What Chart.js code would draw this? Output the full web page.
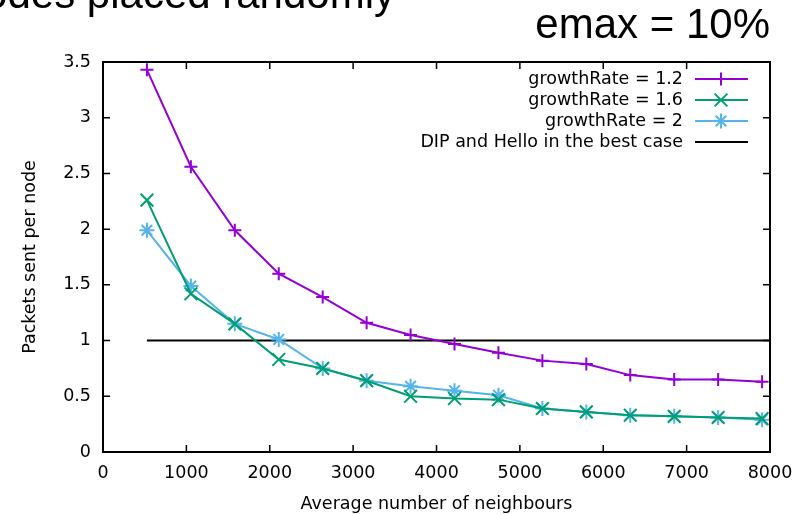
<!DOCTYPE html>
<html>
<head>
<meta charset="utf-8">
<script src="https://cdn.jsdelivr.net/npm/chart.js@4.4.1/dist/chart.umd.min.js"></script>
<style>
  html, body { margin: 0; padding: 0; background: #fff; }
  #chart { display: block; }
</style>
</head>
<body>
<canvas id="chart" width="809" height="515"></canvas>
<script>
// values
const neighbours = [527, 1054, 1581, 2108, 2635, 3162, 3689, 4216, 4743, 5270, 5797, 6324, 6851, 7378, 7905];
const rate12 = [3.43, 2.56, 1.99, 1.60, 1.39, 1.16, 1.05, 0.97, 0.89, 0.82, 0.79, 0.69, 0.65, 0.65, 0.63];
const rate16 = [2.26, 1.42, 1.15, 0.83, 0.75, 0.64, 0.50, 0.48, 0.47, 0.39, 0.36, 0.33, 0.32, 0.31, 0.30];
const rate2  = [1.99, 1.49, 1.15, 1.01, 0.75, 0.64, 0.59, 0.55, 0.51, 0.39, 0.36, 0.33, 0.32, 0.31, 0.29];
const bestX = [527, 8000];
const bestY = [1, 1];
const labels = ["growthRate = 1.2", "growthRate = 1.6", "growthRate = 2", "DIP and Hello in the best case"];
const colours = ["#9400d3", "#009e73", "#56b4e9", "#000000"];

const toPoints = (xs, ys) => xs.map((x, i) => ({ x: x, y: ys[i] }));

const font = { family: "DejaVu Sans", size: 17.5 };

// gnuplot style frame with ticks on all four sides
const framePlugin = {
  id: "frame",
  afterDatasetsDraw(chart) {
    const { ctx, chartArea: a, scales } = chart;
    ctx.save();
    ctx.strokeStyle = "#000";
    ctx.lineWidth = 1.5;
    ctx.beginPath();
    scales.x.ticks.forEach((t) => {
      const px = scales.x.getPixelForValue(t.value);
      ctx.moveTo(px, a.bottom); ctx.lineTo(px, a.bottom - 7);
      ctx.moveTo(px, a.top); ctx.lineTo(px, a.top + 7);
    });
    scales.y.ticks.forEach((t) => {
      const py = scales.y.getPixelForValue(t.value);
      ctx.moveTo(a.left, py); ctx.lineTo(a.left + 7, py);
      ctx.moveTo(a.right, py); ctx.lineTo(a.right - 7, py);
    });
    ctx.stroke();
    ctx.lineWidth = 2;
    ctx.strokeRect(a.left, a.top, a.right - a.left, a.bottom - a.top);

    // legend inside the plot, text on the left of the sample
    ctx.font = "17.5px 'DejaVu Sans'";
    ctx.textAlign = "right";
    ctx.textBaseline = "middle";
    chart.data.datasets.forEach((ds, i) => {
      const y = 79 + i * 21;
      ctx.fillStyle = "#000";
      ctx.fillText(ds.label, 683, y);
      ctx.strokeStyle = ds.borderColor;
      ctx.lineWidth = 2;
      ctx.beginPath();
      ctx.moveTo(695, y); ctx.lineTo(748, y);
      ctx.stroke();
      if (ds.pointRadius > 0) {
        Chart.helpers.drawPoint(ctx, { pointStyle: ds.pointStyle, rotation: 0, radius: ds.pointRadius, borderWidth: 2 }, 721, y);
      }
    });
    ctx.restore();
  },
  afterDraw(chart) {
    const ctx = chart.ctx;
    ctx.save();
    ctx.fillStyle = "#000";
    ctx.font = "42px 'Liberation Sans'";
    ctx.textBaseline = "alphabetic";
    ctx.textAlign = "right";
    ctx.fillText("Nodes placed randomly", 395, 8);
    ctx.fillText("emax = 10%", 770, 38);
    ctx.restore();
  }
};

new Chart(document.getElementById("chart"), {
  type: "line",
  data: {
    datasets: [
      { label: labels[0], data: toPoints(neighbours, rate12), borderColor: colours[0], backgroundColor: colours[0],
        pointStyle: "cross", pointRadius: 6.5, pointBorderWidth: 2 },
      { label: labels[1], data: toPoints(neighbours, rate16), borderColor: colours[1], backgroundColor: colours[1],
        pointStyle: "crossRot", pointRadius: 9, pointBorderWidth: 2 },
      { label: labels[2], data: toPoints(neighbours, rate2), borderColor: colours[2], backgroundColor: colours[2],
        pointStyle: "star", pointRadius: 7.5, pointBorderWidth: 2 },
      { label: labels[3], data: toPoints(bestX, bestY), borderColor: colours[3], backgroundColor: colours[3],
        pointRadius: 0 }
    ]
  },
  options: {
    responsive: false,
    animation: false,
    devicePixelRatio: 1,
    layout: { padding: { top: 62, right: 39, left: 0, bottom: 0 } },
    elements: { line: { borderWidth: 2, tension: 0 } },
    plugins: { legend: { display: false }, tooltip: { enabled: false } },
    scales: {
      x: {
        type: "linear", min: 0, max: 8000,
        grid: { display: false }, border: { display: false },
        ticks: { stepSize: 1000, color: "#000", font: font, padding: 3, maxRotation: 0,
          callback: (v) => String(v) },
        title: { display: true, text: "Average number of neighbours", color: "#000", font: font,
          padding: { top: 2, bottom: 0 } },
        afterFit: (s) => { s.height = 63; }
      },
      y: {
        type: "linear", min: 0, max: 3.5,
        grid: { display: false }, border: { display: false },
        ticks: { stepSize: 0.5, color: "#000", font: font, padding: 4,
          callback: (v) => String(v) },
        title: { display: true, text: "Packets sent per node", color: "#000", font: font,
          padding: { top: 20, bottom: 0 } },
        afterFit: (s) => { s.width = 103; }
      }
    }
  },
  plugins: [framePlugin]
});
</script>
</body>
</html>
